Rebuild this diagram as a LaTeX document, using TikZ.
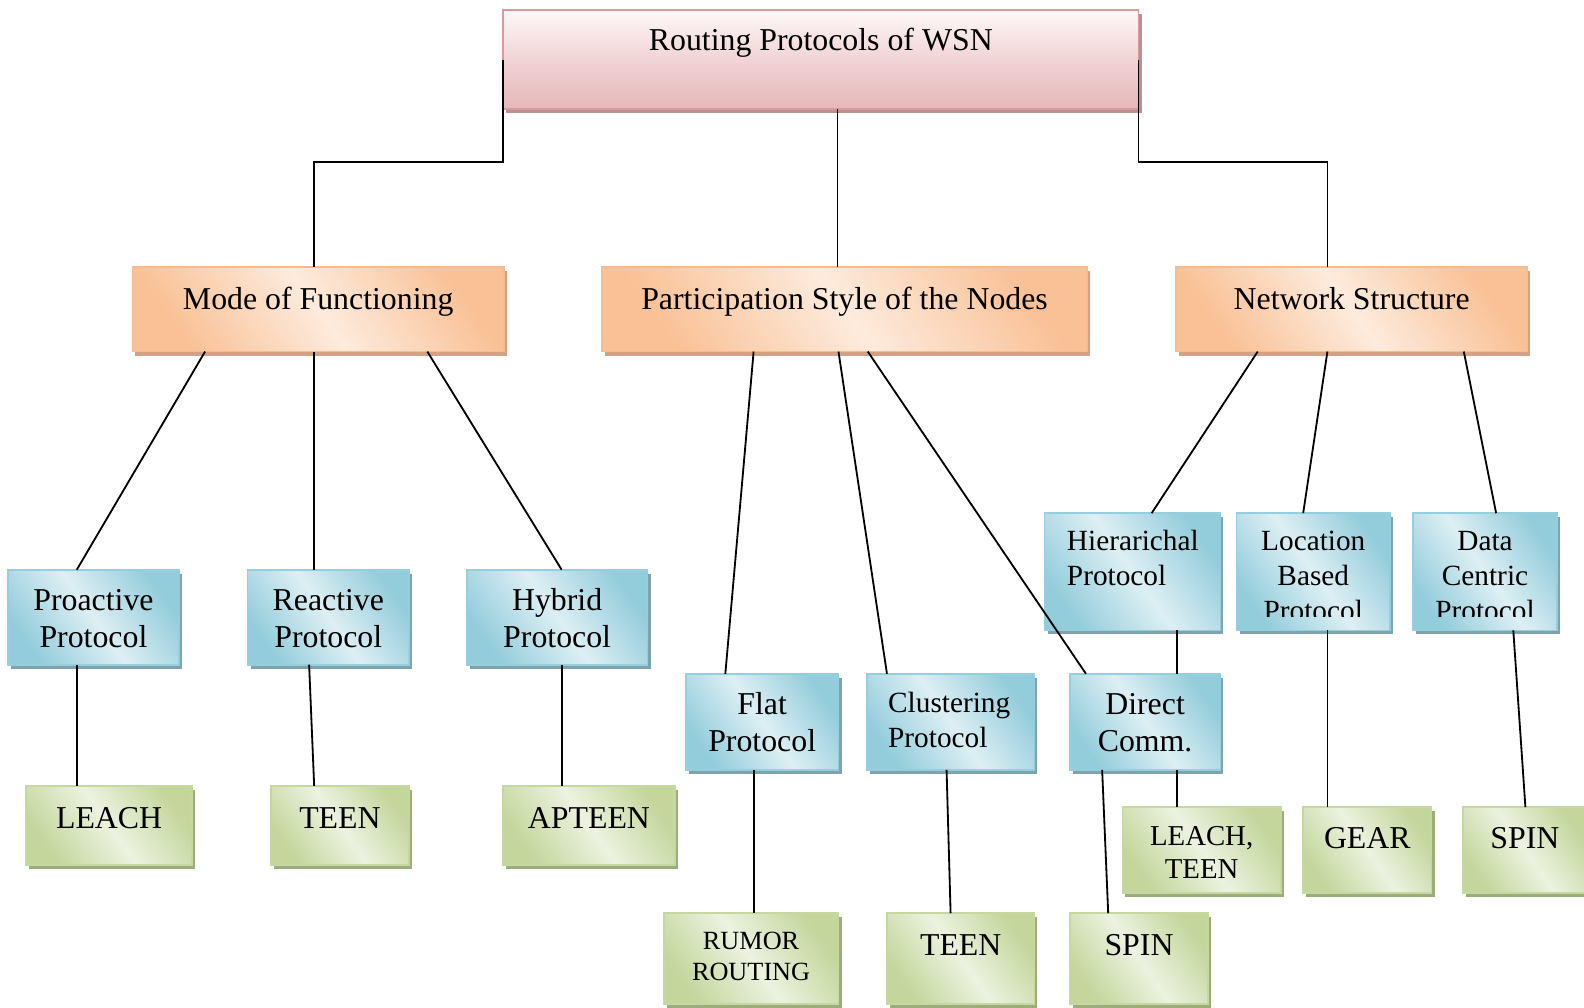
\documentclass[tikz,border=0pt]{standalone}
\usepackage{fontspec}
\setmainfont{Liberation Serif}
\usetikzlibrary{shadows,calc}

% box palettes
\definecolor{rootA}{HTML}{FDF8F8}
\definecolor{rootM}{HTML}{F1D4D5}
\definecolor{rootB}{HTML}{E5B7B8}
\definecolor{rootLine}{HTML}{DC999D}
\definecolor{rootShadow}{HTML}{B89292}
\definecolor{orA}{HTML}{F9C196}
\definecolor{orB}{HTML}{FDEBDD}
\definecolor{orLine}{HTML}{F7BB8E}
\definecolor{orShadow}{HTML}{D3A283}
\definecolor{blA}{HTML}{93CCDB}
\definecolor{blB}{HTML}{DDEFF4}
\definecolor{blLine}{HTML}{95CEDD}
\definecolor{blShadow}{HTML}{7FA3AC}
\definecolor{grA}{HTML}{C3D69B}
\definecolor{grB}{HTML}{ECF2E0}
\definecolor{grLine}{HTML}{C6D8A0}
\definecolor{grShadow}{HTML}{9BAD7C}

\newcommand\lines[1]{\begin{tabular}[t]{@{}c@{}}#1\end{tabular}}
\newcommand\llines[1]{\begin{tabular}[t]{@{}l@{}}#1\end{tabular}}
% #1 name, #2 style, #3 x1, #4 y1, #5 x2, #6 y2
\newcommand\mkbox[6]{\node[#2, minimum width={#5-#3}, minimum height={#6-#4}] (#1) at ({(#3+#5)/2},{(#4+#6)/2}) {};}

\tikzset{
  conn/.style={line width=1.8pt, black},
  basebox/.style={rectangle, inner sep=0pt, outer sep=0pt, line width=1.6pt},
  rootbox/.style={basebox, draw=rootLine, top color=rootA, bottom color=rootB, middle color=rootM,
    drop shadow={shadow xshift=3pt, shadow yshift=-4pt, fill=rootShadow, opacity=1}},
  orbox/.style={basebox, draw=orLine, left color=orA, right color=orA, middle color=orB, shading angle=-55,
    drop shadow={shadow xshift=3pt, shadow yshift=-4pt, fill=orShadow, opacity=1}},
  blbox/.style={basebox, draw=blLine, left color=blA, right color=blA, middle color=blB, shading angle=-55,
    drop shadow={shadow xshift=3pt, shadow yshift=-4pt, fill=blShadow, opacity=1}},
  grbox/.style={basebox, draw=grLine, left color=grA, right color=grA, middle color=grB, shading angle=-55,
    drop shadow={shadow xshift=3pt, shadow yshift=-4pt, fill=grShadow, opacity=1}},
  lbl/.style={anchor=base, inner sep=0pt, text=black},
  lbll/.style={anchor=base west, inner sep=0pt, text=black},
  fbig/.style={font=\fontsize{31.5}{37}\selectfont},
  fmid/.style={font=\fontsize{29}{34.5}\selectfont},
  flt/.style={font=\fontsize{28.5}{33}\selectfont},
  fsmall/.style={font=\fontsize{26}{31}\selectfont},
}

\begin{document}
\begin{tikzpicture}[x=1pt, y=-1pt]
\fill[white] (0,0) rectangle (1568,997);
\useasboundingbox (0,0) rectangle (1568,997);

% ---- boxes ----
\mkbox{root}{rootbox}{498}{10}{1127}{108}
\mkbox{mode}{orbox}{131}{264}{499}{348}
\mkbox{part}{orbox}{596}{264}{1076}{348}
\mkbox{net}{orbox}{1164}{264}{1512}{348}

\mkbox{pro}{blbox}{8}{564}{177}{658}
\mkbox{rea}{blbox}{245}{564}{405}{658}
\mkbox{hyb}{blbox}{462}{564}{641}{658}
\mkbox{flat}{blbox}{679}{667}{830}{762}
\mkbox{clus}{blbox}{858}{667}{1024}{762}
\mkbox{dir}{blbox}{1059}{667}{1208}{762}
\mkbox{hier}{blbox}{1034}{508}{1208}{624}
\mkbox{loc}{blbox}{1224}{508}{1376}{624}
\mkbox{data}{blbox}{1399}{508}{1541}{624}

\mkbox{leach}{grbox}{26}{778}{190}{856}
\mkbox{teenA}{grbox}{268}{778}{405}{856}
\mkbox{apteen}{grbox}{498}{778}{668}{856}
\mkbox{rumor}{grbox}{657}{904}{830}{994}
\mkbox{teenB}{grbox}{878}{904}{1024}{994}
\mkbox{spinA}{grbox}{1059}{904}{1196}{994}
\mkbox{lt}{grbox}{1111}{799}{1268}{884}
\mkbox{gear}{grbox}{1290}{799}{1417}{884}
\mkbox{spinB}{grbox}{1448}{799}{1571}{884}

% ---- labels ----
\node[lbl, fbig] (root-t) at (root.center |- 0,50) {Routing Protocols of WSN};
\node[lbl, fbig] (mode-t) at (mode.center |- 0,306) {Mode of Functioning};
\node[lbl, fbig] (part-t) at (part.center |- 0,306) {Participation Style of the Nodes};
\node[lbl, fbig] (net-t) at (net.center |- 0,306) {Network Structure};

\node[lbl, fbig] (pro-t) at (pro.center |- 0,604) {\lines{Proactive\\Protocol}};
\node[lbl, fbig] (rea-t) at (rea.center |- 0,604) {\lines{Reactive\\Protocol}};
\node[lbl, fbig] (hyb-t) at (hyb.center |- 0,604) {\lines{Hybrid\\Protocol}};
\node[lbl, fbig] (flat-t) at (flat.center |- 0,707) {\lines{Flat\\Protocol}};
\node[lbll, fmid] (clus-t) at (879,705) {\llines{Clustering\\Protocol}};
\node[lbl, fbig] (dir-t) at (dir.center |- 0,707) {\lines{Direct\\Comm.}};
\node[lbll, fmid] (hier-t) at (1056,545) {\llines{Hierarichal\\Protocol}};
% the last line of these two labels runs past the text area and is cut off
\begin{scope}
  \clip ($(loc.north west)$) rectangle ($(data.south east)+(0,-14)$);
  \node[lbl, fmid] (loc-t) at (loc.center |- 0,545) {\lines{Location\\Based\\Protocol}};
  \node[lbl, fmid] (data-t) at (data.center |- 0,545) {\lines{Data\\Centric\\Protocol}};
\end{scope}

\node[lbl, fbig] (leach-t) at (leach.center |- 0,820) {LEACH};
\node[lbl, fbig] (teenA-t) at (teenA.center |- 0,820) {TEEN};
\node[lbl, fbig] (apteen-t) at (apteen.center |- 0,820) {APTEEN};
\node[lbl, fsmall] (rumor-t) at (rumor.center |- 0,940) {\lines{RUMOR\\ROUTING}};
\node[lbl, fbig] (teenB-t) at (teenB.center |- 0,946) {TEEN};
\node[lbl, fbig] (spinA-t) at (spinA.center |- 0,946) {SPIN};
\node[lbl, flt] (lt-t) at (lt.center |- 0,837) {\lines{LEACH,\\TEEN}};
\node[lbl, fbig] (gear-t) at (gear.center |- 0,840) {GEAR};
\node[lbl, fbig] (spinB-t) at (spinB.center |- 0,840) {SPIN};

% ---- connectors ----
\draw[conn] (root.west) |- (311,160) -- (mode.north -| 311,0);
\draw[conn] (root.east) |- (1314,160) -- (net.north -| 1314,0);
\draw[conn] (root.south -| 829,0) -- (part.north -| 829,0);

\draw[conn] (mode.south -| 203,0) -- (pro.north -| 76,0);
\draw[conn] (mode.south -| 311,0) -- (rea.north -| 311,0);
\draw[conn] (mode.south -| 423,0) -- (hyb.north -| 556,0);
\draw[conn] (pro.south -| 76,0) -- (leach.north -| 76,0);
\draw[conn] (rea.south -| 306,0) -- (teenA.north -| 311,0);
\draw[conn] (hyb.south -| 556,0) -- (apteen.north -| 556,0);

\draw[conn] (part.south -| 746,0) -- (flat.north -| 718,0);
\draw[conn] (part.south -| 830,0) -- (clus.north -| 878,0);
\draw[conn] (part.south -| 859,0) -- (dir.north -| 1075,0);
\draw[conn] (flat.south -| 746,0) -- (rumor.north -| 746,0);
\draw[conn] (clus.south -| 937,0) -- (teenB.north -| 941,0);
\draw[conn] (dir.south -| 1091,0) -- (spinA.north -| 1097,0);

\draw[conn] (net.south -| 1245,0) -- (hier.north -| 1140,0);
\draw[conn] (net.south -| 1314,0) -- (loc.north -| 1290,0);
\draw[conn] (net.south -| 1449,0) -- (data.north -| 1481,0);
\draw[conn] (hier.south -| 1165,0) -- (dir.north -| 1165,0);
\draw[conn] (dir.south -| 1165,0) -- (lt.north -| 1165,0);
\draw[conn] (loc.south -| 1314,0) -- (gear.north -| 1314,0);
\draw[conn] (data.south -| 1498,0) -- (spinB.north -| 1510,0);
\end{tikzpicture}
\end{document}
